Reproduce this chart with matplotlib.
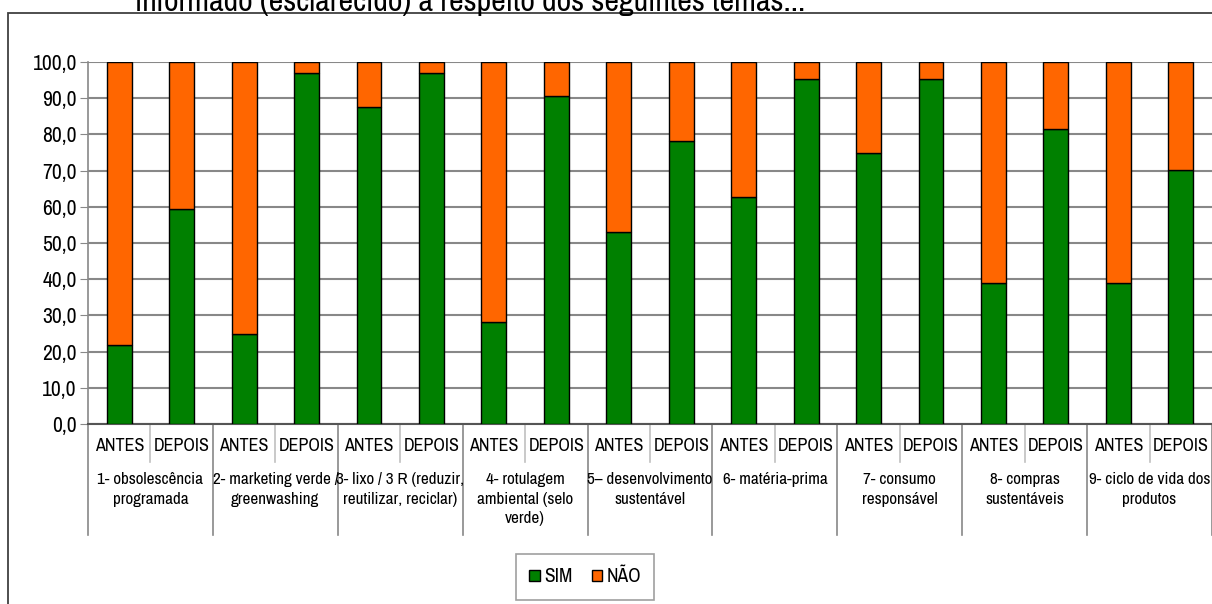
import matplotlib
matplotlib.use("Agg")
import matplotlib.pyplot as plt
from matplotlib.patches import Rectangle
import matplotlib.transforms as mtransforms

plt.rcParams['font.family'] = ['Liberation Sans Narrow', 'Archivo Narrow', 'Roboto Condensed',
                               'Liberation Sans', 'DejaVu Sans']

topics = ["1- obsolescência\nprogramada", "2- marketing verde /\ngreenwashing",
          "3- lixo / 3 R (reduzir,\nreutilizar, reciclar)", "4- rotulagem\nambiental (selo\nverde)",
          "5– desenvolvimento\nsustentável", "6- matéria-prima", "7- consumo\nresponsável",
          "8- compras\nsustentáveis", "9- ciclo de vida dos\nprodutos"]
phases = ["ANTES", "DEPOIS"]
sim = [21.9, 59.4, 25.0, 97.0, 87.5, 97.0, 28.1, 90.6, 53.0, 78.3,
       62.6, 95.4, 75.0, 95.4, 38.9, 81.4, 38.9, 70.3]
nao = [100 - v for v in sim]
yticks = [0, 10, 20, 30, 40, 50, 60, 70, 80, 90, 100]

W, H = 1212, 604
fig = plt.figure(figsize=(W / 100, H / 100), dpi=100)

# outer frame
fig.patches.append(Rectangle((8 / W, -0.1), 1.2, 1 - 13 / H + 0.1, transform=fig.transFigure,
                             fill=False, edgecolor='#404040', linewidth=1.3))
fig.text(135 / W, 1 - 11 / H, "informado (esclarecido) a respeito dos seguintes temas...",
         fontsize=23, va='baseline', ha='left', color='black')

left, right, top, bottom = 88, 1212, 62, 424
ax = fig.add_axes([left / W, 1 - bottom / H, (right - left) / W, (bottom - top) / H])
n = len(sim)
x = list(range(n))
ax.bar(x, sim, width=0.4, color='#008000', edgecolor='black', linewidth=1, label='SIM', zorder=3)
ax.bar(x, nao, bottom=sim, width=0.4, color='#FF6600', edgecolor='black', linewidth=1, label='NÃO', zorder=3)
ax.set_xlim(-0.5, n - 0.5)
ax.set_ylim(0, 100)
ax.set_yticks(yticks)
ax.set_yticklabels([f"{v:.1f}".replace('.', ',') for v in yticks], fontsize=15.5)
ax.yaxis.grid(True, color='#888888', linewidth=1.5, zorder=0)
ax.set_xticks([])
for s in ['top', 'right']:
    ax.spines[s].set_visible(False)
ax.spines['left'].set_color('#888888')
ax.spines['bottom'].set_color('#555555')
ax.spines['left'].set_linewidth(1.2)
ax.spines['bottom'].set_linewidth(1.5)
ax.tick_params(axis='y', length=6, color='#888888', pad=2)

axh = bottom - top
trans = mtransforms.blended_transform_factory(ax.transData, ax.transAxes)
def ya(px):
    return (bottom - px) / axh

for i in range(n):
    ax.text(i, ya(446), phases[i % 2], transform=trans, ha='center', va='center', fontsize=13)
    if i % 2 == 1:
        ax.plot([i - 0.5, i - 0.5], [0, ya(462)], transform=trans, color='#c0c0c0',
                linewidth=1.2, clip_on=False)
for g in range(len(topics) + 1):
    xs = 2 * g - 0.5
    ax.plot([xs, xs], [0, ya(535)], transform=trans, color='#888888', linewidth=1.2, clip_on=False)
for g, t in enumerate(topics):
    ax.text(2 * g + 0.5, ya(472), t, transform=trans, ha='center', va='top', fontsize=12.3,
            linespacing=1.38)

leg = fig.legend(loc='center', bbox_to_anchor=(585 / W, 1 - 577 / H), ncol=2, fontsize=14,
                 frameon=True, fancybox=False, edgecolor='#888888', handlelength=0.55,
                 handleheight=0.55, handletextpad=0.2, columnspacing=1.0, borderpad=0.7)
leg.get_frame().set_linewidth(1.2)
for h in leg.legend_handles:
    h.set_edgecolor('black')
    h.set_linewidth(1)

fig.savefig("out.png", dpi=100)
